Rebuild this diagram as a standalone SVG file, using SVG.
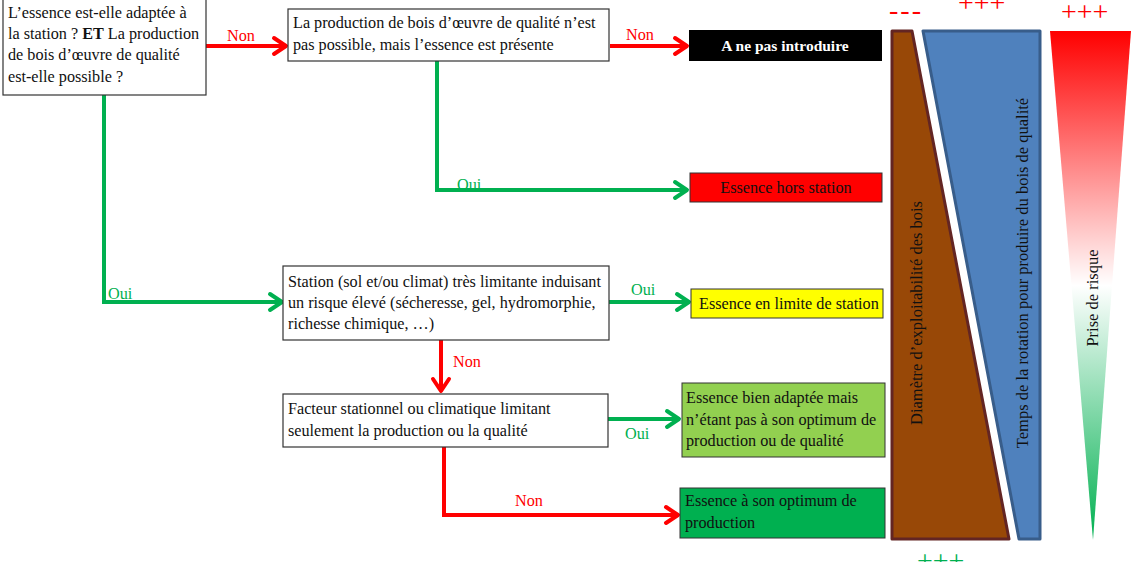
<svg xmlns="http://www.w3.org/2000/svg" width="1134" height="562" viewBox="0 0 1134 562">
<style>
.box{fill:#fff;stroke:#333;stroke-width:1.2}
.t{font-family:"Liberation Serif","Times New Roman",serif;font-size:16.2px;fill:#111}
.v{font-family:"Liberation Serif","Times New Roman",serif;font-size:16.5px;fill:#111}
.non{font-family:"Liberation Serif","Times New Roman",serif;font-size:16.2px;fill:#ff0000}
.oui{font-family:"Liberation Serif","Times New Roman",serif;font-size:16.2px;fill:#00b050}
.r{fill:none;stroke:#ff0000;stroke-width:4}
.g{fill:none;stroke:#00b050;stroke-width:4}
.sym{font-family:"Liberation Serif","Times New Roman",serif;font-size:28px}
</style>
<defs>
<marker id="ar" viewBox="0 0 20 24" refX="16" refY="12" markerWidth="20" markerHeight="24" markerUnits="userSpaceOnUse" orient="auto">
<path d="M4,4 L16,12 L4,20" fill="none" stroke="#ff0000" stroke-width="4" stroke-linecap="round" stroke-linejoin="round"/>
</marker>
<marker id="ag" viewBox="0 0 20 24" refX="16" refY="12" markerWidth="20" markerHeight="24" markerUnits="userSpaceOnUse" orient="auto">
<path d="M4,4 L16,12 L4,20" fill="none" stroke="#00b050" stroke-width="4" stroke-linecap="round" stroke-linejoin="round"/>
</marker>
<linearGradient id="risk" x1="0" y1="31" x2="0" y2="540" gradientUnits="userSpaceOnUse">
<stop offset="0" stop-color="#ff0000"/>
<stop offset="0.5" stop-color="#ffffff"/>
<stop offset="1" stop-color="#00b050"/>
</linearGradient>
</defs>

<g id="connectors">
<line class="r" x1="206" y1="46" x2="286" y2="46" marker-end="url(#ar)"/>
<line class="r" x1="610" y1="46" x2="687" y2="46" marker-end="url(#ar)"/>
<polyline class="g" points="437,61 437,190 687,190" marker-end="url(#ag)"/>
<polyline class="g" points="104,95 104,302 282,302" marker-end="url(#ag)"/>
<line class="g" x1="609" y1="302" x2="689" y2="302" marker-end="url(#ag)"/>
<line class="r" x1="441" y1="340" x2="441" y2="391" marker-end="url(#ar)"/>
<line class="g" x1="608" y1="419" x2="679" y2="419" marker-end="url(#ag)"/>
<polyline class="r" points="444,447 444,515 678,515" marker-end="url(#ar)"/>
<text class="non" x="227" y="41">Non</text>
<text class="non" x="626" y="40">Non</text>
<text class="oui" x="457" y="190">Oui</text>
<text class="oui" x="108" y="299">Oui</text>
<text class="oui" x="631" y="295">Oui</text>
<text class="non" x="453" y="367">Non</text>
<text class="oui" x="625" y="439">Oui</text>
<text class="non" x="515" y="506">Non</text>
</g>

<g id="q1">
<rect class="box" x="3" y="-1" width="203" height="96"/>
<text class="t" x="8" y="18">L’essence est-elle adaptée à</text>
<text class="t" x="8" y="39">la station ? <tspan font-weight="bold">ET</tspan> La production</text>
<text class="t" x="8" y="60">de bois d’œuvre de qualité</text>
<text class="t" x="8" y="82">est-elle possible ?</text>
</g>

<g id="q2">
<rect class="box" x="288" y="9" width="321" height="52"/>
<text class="t" x="293" y="28">La production de bois d’œuvre de qualité n’est</text>
<text class="t" x="293" y="50">pas possible, mais l’essence est présente</text>
</g>

<g id="r-introduire">
<rect x="689" y="30" width="193" height="31" fill="#000"/>
<text class="t" x="785" y="51" text-anchor="middle" font-weight="bold" style="fill:#fff;font-size:15.5px">A ne pas introduire</text>
</g>

<g id="r-hors-station">
<rect x="690" y="173" width="192" height="29" fill="#ff0000" stroke="#333" stroke-width="1"/>
<text class="t" x="786" y="193" text-anchor="middle">Essence hors station</text>
</g>

<g id="q3">
<rect class="box" x="283" y="266" width="326" height="74"/>
<text class="t" x="288" y="287">Station (sol et/ou climat) très limitante induisant</text>
<text class="t" x="288" y="308">un risque élevé (sécheresse, gel, hydromorphie,</text>
<text class="t" x="288" y="329">richesse chimique, …)</text>
</g>

<g id="r-limite">
<rect x="691" y="289" width="192" height="29" fill="#ffff00" stroke="#333" stroke-width="1"/>
<text class="t" x="699" y="309">Essence en limite de station</text>
</g>

<g id="q4">
<rect class="box" x="283" y="394" width="325" height="53"/>
<text class="t" x="288" y="414">Facteur stationnel ou climatique limitant</text>
<text class="t" x="288" y="436">seulement la production ou la qualité</text>
</g>

<g id="r-bien-adaptee">
<rect x="682" y="383" width="203" height="74" fill="#92d050" stroke="#333" stroke-width="1"/>
<text class="t" x="686" y="403">Essence bien adaptée mais</text>
<text class="t" x="686" y="425">n’étant pas à son optimum de</text>
<text class="t" x="686" y="446">production ou de qualité</text>
</g>

<g id="r-optimum">
<rect x="680" y="488" width="205" height="50" fill="#00b050" stroke="#333" stroke-width="1"/>
<text class="t" x="685" y="506">Essence à son optimum de</text>
<text class="t" x="685" y="528">production</text>
</g>

<g id="scale-diametre">
<polygon points="892,31 912,31 1009,539 892,539" fill="#984807" stroke="#632523" stroke-width="3" stroke-linejoin="round"/>
<text class="v" transform="translate(922,313) rotate(-90)" text-anchor="middle">Diamètre d’exploitabilité des bois</text>
</g>

<g id="scale-rotation">
<polygon points="923,31 1040,31 1040,539 1019,539" fill="#4f81bd" stroke="#385d8a" stroke-width="3" stroke-linejoin="round"/>
<text class="v" transform="translate(1028,273) rotate(-90)" text-anchor="middle">Temps de la rotation pour produire du bois de qualité</text>
</g>

<g id="scale-risque">
<polygon points="1050,31 1131,31 1093,540" fill="url(#risk)"/>
<text class="v" transform="translate(1098,298) rotate(-90)" text-anchor="middle">Prise de risque</text>
</g>

<g id="signs">
<text class="sym" x="889" y="19" fill="#ff0000" letter-spacing="2">---</text>
<text class="sym" x="958" y="12" fill="#ff0000">+++</text>
<text class="sym" x="1061" y="21" fill="#ff0000">+++</text>
<text class="sym" x="917" y="570" fill="#00b050">+++</text>
</g>
</svg>
